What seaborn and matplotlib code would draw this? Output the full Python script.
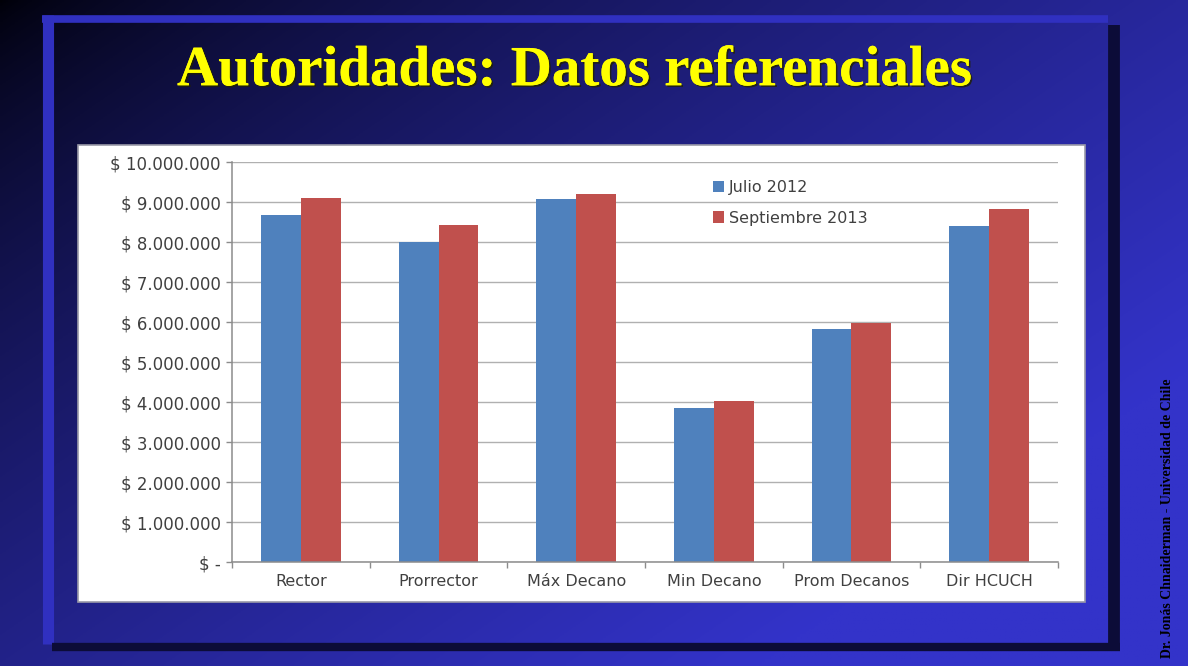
import numpy as np
import pandas as pd
import matplotlib
matplotlib.use("Agg")
import matplotlib.pyplot as plt
import matplotlib.patheffects as pe
from matplotlib.patches import Rectangle
from matplotlib.lines import Line2D
from matplotlib.ticker import FuncFormatter, MultipleLocator, FixedLocator
import seaborn as sns

# datos
cargos = ["Rector", "Prorrector", "Máx Decano", "Min Decano", "Prom Decanos", "Dir HCUCH"]
julio_2012 = [8675000, 8010000, 9075000, 3845000, 5830000, 8410000]
septiembre_2013 = [9110000, 8430000, 9190000, 4030000, 5970000, 8820000]
series = ["Julio 2012", "Septiembre 2013"]
colores = ["#4f81bd", "#c0504d"]

df = pd.DataFrame({
    "cargo": cargos * 2,
    "monto": julio_2012 + septiembre_2013,
    "serie": [series[0]] * len(cargos) + [series[1]] * len(cargos),
})

sns.set_style("white")
plt.rcParams["font.family"] = ["DejaVu Sans"]

W, H = 1188, 666
fig = plt.figure(figsize=(W / 100, H / 100), dpi=100)

# fondo degradado de la diapositiva
bg = fig.add_axes([0, 0, 1, 1], zorder=0)
xx, yy = np.meshgrid(np.linspace(0, 1, 400), np.linspace(0, 1, 240))
t = np.clip((xx * 0.55 + yy * 0.45) * 1.25, 0, 1) ** 0.7
c0 = np.array([0.0, 0.0, 0.03])
c1 = np.array([0.20, 0.20, 0.79])
img = c0[None, None, :] * (1 - t[..., None]) + c1[None, None, :] * t[..., None]
bg.imshow(img, extent=[0, W, H, 0], aspect="auto")
bg.set_xlim(0, W)
bg.set_ylim(H, 0)
bg.axis("off")

# marco
bg.add_line(Line2D([42, 1108], [18.5, 18.5], color="#3030c0", lw=5.5, solid_capstyle="butt"))
bg.add_line(Line2D([47.5, 47.5], [15, 644], color="#3030c0", lw=8, solid_capstyle="butt"))
bg.add_line(Line2D([1114, 1114], [25, 651], color="#0c0c38", lw=8.5, solid_capstyle="butt"))
bg.add_line(Line2D([52, 1120], [647, 647], color="#0c0c38", lw=6, solid_capstyle="butt"))

# panel blanco del grafico
bg.add_patch(Rectangle((78, 145), 1007, 457, facecolor="white", edgecolor="#9a9aa8", lw=1.2))

# titulo
fig.text(0.484, 0.893, "Autoridades: Datos referenciales", ha="center", va="center",
         fontsize=41, fontweight="bold", color="#ffff00", family=["Liberation Serif"],
         path_effects=[pe.withSimplePatchShadow(offset=(1.2, -1.2), shadow_rgbFace="#222200", alpha=0.8), pe.Normal()])

# texto vertical del autor
fig.text(0.983, 0.222, "Dr. Jonás Chnaiderman - Universidad de Chile", rotation=90,
         ha="center", va="center", fontsize=10, fontweight="bold", color="black",
         family=["Liberation Serif"])

ax = fig.add_axes([232 / W, 1 - 562 / H, 826 / W, 400 / H], zorder=2)
ax.patch.set_alpha(0)
sns.barplot(data=df, x="cargo", y="monto", hue="serie", palette=colores,
            width=0.58, saturation=1, ax=ax, linewidth=0)

ax.set_xlim(-0.5, len(cargos) - 0.5)
ax.set_ylim(0, 10000000)
ax.yaxis.set_major_locator(MultipleLocator(1000000))


def pesos(v, pos):
    if v == 0:
        return "$ -"
    return "$ " + f"{v:,.0f}".replace(",", ".")


ax.yaxis.set_major_formatter(FuncFormatter(pesos))
ax.grid(axis="y", color="#b0b0b0", lw=1.0)
ax.set_axisbelow(True)
ax.set_xlabel("")
ax.set_ylabel("")

for s in ["top", "right"]:
    ax.spines[s].set_visible(False)
for s in ["left", "bottom"]:
    ax.spines[s].set_color("#8c8c8c")
    ax.spines[s].set_linewidth(1.1)

ax.tick_params(axis="y", which="major", left=True, length=4, width=1, color="#8c8c8c",
               labelsize=12, labelcolor="#404040", pad=4)
ax.tick_params(axis="x", which="major", length=0, labelsize=11.5, labelcolor="#404040", pad=9)
ax.xaxis.set_minor_locator(FixedLocator(np.arange(-0.5, len(cargos), 1.0)))
ax.tick_params(axis="x", which="minor", bottom=True, length=4, width=1, color="#8c8c8c")

leg = ax.legend(loc="upper left", bbox_to_anchor=(0.565, 0.99), frameon=False,
                fontsize=11.5, handlelength=0.7, handleheight=0.7, handletextpad=0.3,
                labelspacing=0.95)
for txt in leg.get_texts():
    txt.set_color("#404040")

fig.savefig("out.png", dpi=100)
